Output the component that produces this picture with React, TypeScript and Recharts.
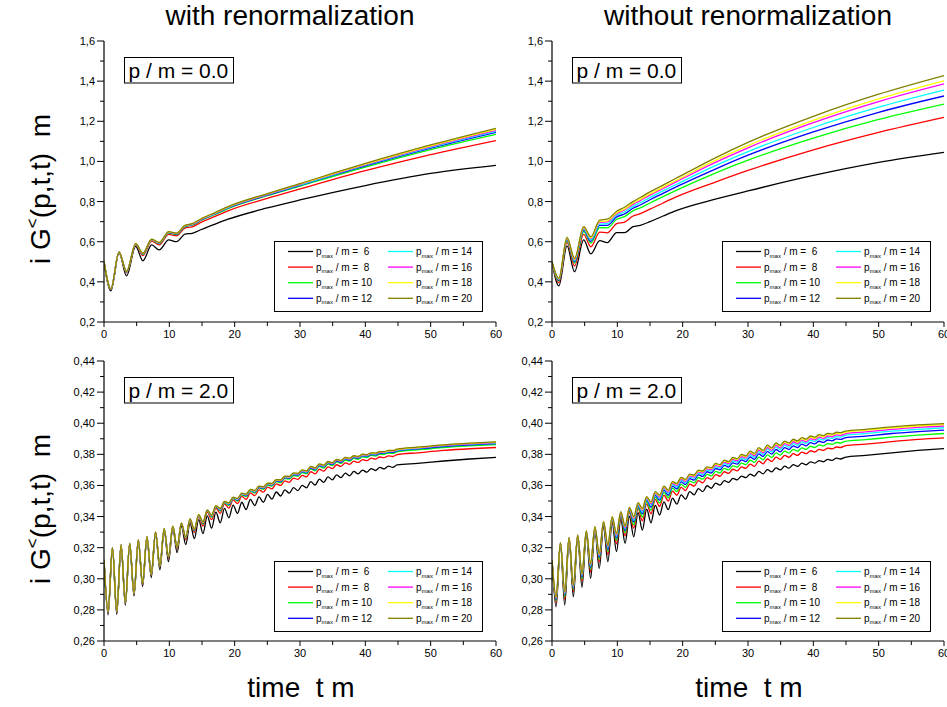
import React from 'react';
import { LineChart, Line, XAxis, YAxis } from 'recharts';

const FONT = "Arial, 'Liberation Sans', Helvetica, sans-serif";

// ---------- categories / ticks ----------
const X_TICKS = [0, 5, 10, 15, 20, 25, 30, 35, 40, 45, 50, 55, 60];
const X_MAJOR = [0, 10, 20, 30, 40, 50, 60];
const TOP_Y_TICKS = [0.2, 0.3, 0.4, 0.5, 0.6, 0.7, 0.8, 0.9, 1.0, 1.1, 1.2, 1.3, 1.4, 1.5, 1.6];
const TOP_Y_MAJOR = [0.2, 0.4, 0.6, 0.8, 1.0, 1.2, 1.4, 1.6];
const BOT_Y_TICKS = [0.26, 0.27, 0.28, 0.29, 0.3, 0.31, 0.32, 0.33, 0.34, 0.35, 0.36, 0.37, 0.38, 0.39, 0.4, 0.41, 0.42, 0.43, 0.44];
const BOT_Y_MAJOR = [0.26, 0.28, 0.3, 0.32, 0.34, 0.36, 0.38, 0.4, 0.42, 0.44];

const SERIES_KEYS = ['p6', 'p8', 'p10', 'p12', 'p14', 'p16', 'p18', 'p20'];
const SERIES_LABELS = [' 6', ' 8', '10', '12', '14', '16', '18', '20'];
const SERIES_COLORS = ['#000000', '#ff0000', '#00ff00', '#0000ff', '#00ffff', '#ff00ff', '#ffff00', '#808000'];

// ---------- time samples ----------
const T_TOP = [0, 1.05, 2.3, 3.45, 4.85, 5.95, 7.3, 8.45, 9.9, 11.1, 12.4, 13.5, 15, 17, 19, 25, 30, 40, 50, 60];
const T_BOT = [0, 0.63, 1.29, 1.95, 2.61, 3.27, 3.93, 4.59, 5.25, 5.91, 6.57, 7.23, 7.89, 8.55, 9.21, 9.87, 10.53,
  11.19, 11.85, 12.51, 13.17, 13.83, 14.49, 15.15, 15.81, 16.47, 17.13, 17.79, 18.45, 19.11, 19.77, 20.43, 21.09,
  21.75, 22.41, 23.07, 23.73, 24.39, 25.05, 25.71, 26.37, 27.03, 27.69, 28.35, 29.01, 29.67, 30.33,
  30.99, 31.65, 32.31, 32.97, 33.63, 34.29, 34.95, 35.61, 36.27, 36.93, 37.59, 38.25, 38.91, 39.57, 40.23, 40.89,
  41.55, 42.21, 42.87, 43.53, 44.19, 44.85, 48, 52, 56, 60];

// ---------- top-left: with renormalization, p/m = 0.0 ----------
const TL_P6 = [0.500, 0.355, 0.545, 0.430, 0.577, 0.505, 0.584, 0.559, 0.609, 0.600, 0.638, 0.642, 0.662, 0.688, 0.712, 0.768, 0.808, 0.880, 0.940, 0.980];
const TL_P8 = [0.500, 0.362, 0.547, 0.445, 0.586, 0.531, 0.603, 0.584, 0.637, 0.629, 0.668, 0.674, 0.699, 0.726, 0.754, 0.816, 0.863, 0.954, 1.034, 1.104];
const TL_P10 = [0.500, 0.363, 0.548, 0.449, 0.588, 0.537, 0.608, 0.590, 0.643, 0.636, 0.675, 0.682, 0.708, 0.736, 0.765, 0.829, 0.877, 0.972, 1.059, 1.135];
const TL_P12 = [0.500, 0.364, 0.548, 0.450, 0.589, 0.539, 0.610, 0.592, 0.646, 0.638, 0.677, 0.685, 0.711, 0.739, 0.768, 0.832, 0.881, 0.978, 1.066, 1.145];
const TL_P14 = [0.500, 0.364, 0.548, 0.450, 0.589, 0.540, 0.611, 0.593, 0.647, 0.640, 0.679, 0.686, 0.713, 0.740, 0.770, 0.834, 0.883, 0.981, 1.070, 1.150];
const TL_P16 = [0.500, 0.364, 0.548, 0.451, 0.589, 0.541, 0.611, 0.594, 0.648, 0.641, 0.680, 0.687, 0.714, 0.742, 0.772, 0.836, 0.886, 0.984, 1.074, 1.155];
const TL_P18 = [0.500, 0.365, 0.548, 0.451, 0.590, 0.542, 0.612, 0.595, 0.649, 0.642, 0.681, 0.689, 0.716, 0.744, 0.773, 0.838, 0.888, 0.987, 1.078, 1.160];
const TL_P20 = [0.500, 0.365, 0.548, 0.452, 0.590, 0.543, 0.613, 0.596, 0.650, 0.643, 0.682, 0.690, 0.717, 0.745, 0.775, 0.840, 0.890, 0.990, 1.082, 1.165];

// ---------- top-right: without renormalization, p/m = 0.0 ----------
const TR_P6 = [0.500, 0.380, 0.579, 0.451, 0.609, 0.539, 0.605, 0.595, 0.645, 0.645, 0.675, 0.682, 0.700, 0.728, 0.755, 0.812, 0.853, 0.930, 0.995, 1.045];
const TR_P8 = [0.500, 0.396, 0.597, 0.479, 0.637, 0.575, 0.648, 0.644, 0.690, 0.698, 0.728, 0.740, 0.762, 0.793, 0.823, 0.897, 0.955, 1.058, 1.145, 1.220];
const TR_P10 = [0.500, 0.404, 0.606, 0.493, 0.651, 0.593, 0.670, 0.669, 0.712, 0.725, 0.754, 0.769, 0.793, 0.825, 0.856, 0.942, 1.006, 1.116, 1.209, 1.286];
const TR_P12 = [0.500, 0.408, 0.611, 0.500, 0.658, 0.602, 0.681, 0.681, 0.724, 0.738, 0.767, 0.783, 0.809, 0.841, 0.873, 0.962, 1.031, 1.147, 1.245, 1.326];
const TR_P14 = [0.500, 0.411, 0.614, 0.505, 0.663, 0.609, 0.688, 0.690, 0.732, 0.748, 0.776, 0.794, 0.820, 0.853, 0.885, 0.979, 1.049, 1.169, 1.270, 1.355];
const TR_P16 = [0.500, 0.414, 0.617, 0.510, 0.668, 0.616, 0.697, 0.699, 0.740, 0.758, 0.786, 0.805, 0.832, 0.865, 0.898, 0.995, 1.068, 1.193, 1.298, 1.386];
const TR_P18 = [0.500, 0.415, 0.619, 0.513, 0.671, 0.619, 0.701, 0.704, 0.745, 0.763, 0.792, 0.811, 0.838, 0.872, 0.905, 1.005, 1.079, 1.205, 1.312, 1.402];
const TR_P20 = [0.500, 0.418, 0.622, 0.517, 0.675, 0.625, 0.708, 0.712, 0.752, 0.772, 0.800, 0.820, 0.848, 0.882, 0.916, 1.018, 1.095, 1.225, 1.335, 1.428];

// ---------- bottom-left: with renormalization, p/m = 2.0 ----------
const BL_P6 = [0.3120, 0.2768, 0.3198, 0.2772, 0.3214, 0.2830, 0.3224, 0.2890, 0.3244, 0.2950, 0.3262, 0.3008, 0.3290, 0.3058, 0.3310, 0.3110, 0.3322, 0.3168, 0.3338, 0.3220, 0.3358, 0.3258, 0.3380, 0.3290, 0.3405, 0.3325, 0.3428, 0.3360, 0.3452, 0.3392, 0.3474, 0.3420, 0.3492, 0.3445, 0.3510, 0.3470, 0.3526, 0.3492, 0.3542, 0.3512, 0.3558, 0.3532, 0.3572, 0.3550, 0.3586, 0.3567, 0.3600,
  0.3585, 0.3624, 0.3603, 0.3640, 0.3620, 0.3655, 0.3636, 0.3668, 0.3650, 0.3679, 0.3662, 0.3690, 0.3674, 0.3699, 0.3685, 0.3708, 0.3696, 0.3716, 0.3706, 0.3724, 0.3716, 0.3732, 0.3742, 0.3757, 0.3770, 0.3780];
const BL_P8 = [0.3120, 0.2782, 0.3199, 0.2784, 0.3216, 0.2841, 0.3227, 0.2901, 0.3248, 0.2963, 0.3267, 0.3022, 0.3296, 0.3076, 0.3318, 0.3131, 0.3332, 0.3192, 0.3351, 0.3251, 0.3376, 0.3297, 0.3401, 0.3339, 0.3429, 0.3380, 0.3455, 0.3420, 0.3482, 0.3454, 0.3507, 0.3483, 0.3530, 0.3510, 0.3552, 0.3534, 0.3572, 0.3557, 0.3589, 0.3578, 0.3610, 0.3600, 0.3629, 0.3620, 0.3647, 0.3639, 0.3665,
  0.3655, 0.3688, 0.3674, 0.3704, 0.3692, 0.3719, 0.3708, 0.3733, 0.3722, 0.3745, 0.3736, 0.3756, 0.3748, 0.3766, 0.3759, 0.3775, 0.3769, 0.3783, 0.3779, 0.3790, 0.3786, 0.3798, 0.3810, 0.3825, 0.3836, 0.3844];
const BL_P10 = [0.3120, 0.2786, 0.3200, 0.2787, 0.3216, 0.2844, 0.3227, 0.2904, 0.3249, 0.2967, 0.3269, 0.3026, 0.3297, 0.3080, 0.3320, 0.3137, 0.3335, 0.3199, 0.3355, 0.3260, 0.3380, 0.3308, 0.3407, 0.3352, 0.3436, 0.3396, 0.3463, 0.3436, 0.3490, 0.3472, 0.3515, 0.3500, 0.3540, 0.3528, 0.3564, 0.3551, 0.3584, 0.3575, 0.3603, 0.3596, 0.3624, 0.3618, 0.3645, 0.3640, 0.3664, 0.3659, 0.3683,
  0.3675, 0.3706, 0.3694, 0.3722, 0.3712, 0.3737, 0.3728, 0.3751, 0.3742, 0.3763, 0.3756, 0.3774, 0.3768, 0.3784, 0.3779, 0.3793, 0.3789, 0.3801, 0.3799, 0.3808, 0.3806, 0.3816, 0.3829, 0.3844, 0.3855, 0.3863];
const BL_P12 = [0.3120, 0.2788, 0.3200, 0.2788, 0.3217, 0.2845, 0.3228, 0.2905, 0.3249, 0.2968, 0.3269, 0.3028, 0.3298, 0.3082, 0.3321, 0.3138, 0.3336, 0.3201, 0.3356, 0.3263, 0.3382, 0.3311, 0.3408, 0.3357, 0.3438, 0.3401, 0.3465, 0.3442, 0.3493, 0.3477, 0.3518, 0.3506, 0.3544, 0.3534, 0.3568, 0.3557, 0.3588, 0.3581, 0.3607, 0.3602, 0.3629, 0.3625, 0.3650, 0.3646, 0.3670, 0.3666, 0.3689,
  0.3682, 0.3712, 0.3701, 0.3728, 0.3719, 0.3743, 0.3735, 0.3757, 0.3749, 0.3769, 0.3763, 0.3780, 0.3775, 0.3790, 0.3786, 0.3799, 0.3796, 0.3807, 0.3806, 0.3814, 0.3813, 0.3822, 0.3835, 0.3850, 0.3861, 0.3869];
const BL_P14 = [0.3120, 0.2789, 0.3200, 0.2789, 0.3217, 0.2846, 0.3228, 0.2906, 0.3250, 0.2969, 0.3269, 0.3029, 0.3298, 0.3083, 0.3321, 0.3140, 0.3337, 0.3202, 0.3357, 0.3265, 0.3383, 0.3314, 0.3410, 0.3360, 0.3439, 0.3404, 0.3467, 0.3446, 0.3495, 0.3481, 0.3520, 0.3510, 0.3546, 0.3538, 0.3570, 0.3561, 0.3591, 0.3585, 0.3610, 0.3606, 0.3632, 0.3629, 0.3654, 0.3650, 0.3673, 0.3670, 0.3693,
  0.3686, 0.3716, 0.3705, 0.3732, 0.3723, 0.3747, 0.3739, 0.3761, 0.3753, 0.3773, 0.3767, 0.3784, 0.3779, 0.3794, 0.3790, 0.3803, 0.3800, 0.3811, 0.3810, 0.3818, 0.3817, 0.3826, 0.3839, 0.3854, 0.3865, 0.3873];
const BL_P16 = [0.3120, 0.2789, 0.3200, 0.2789, 0.3217, 0.2846, 0.3228, 0.2906, 0.3250, 0.2969, 0.3270, 0.3029, 0.3299, 0.3084, 0.3321, 0.3141, 0.3337, 0.3203, 0.3357, 0.3266, 0.3384, 0.3315, 0.3411, 0.3362, 0.3440, 0.3406, 0.3468, 0.3448, 0.3496, 0.3484, 0.3522, 0.3513, 0.3547, 0.3540, 0.3572, 0.3564, 0.3593, 0.3587, 0.3612, 0.3608, 0.3634, 0.3631, 0.3656, 0.3653, 0.3676, 0.3673, 0.3695,
  0.3689, 0.3718, 0.3708, 0.3734, 0.3726, 0.3749, 0.3742, 0.3763, 0.3756, 0.3775, 0.3770, 0.3786, 0.3782, 0.3796, 0.3793, 0.3805, 0.3803, 0.3813, 0.3813, 0.3820, 0.3820, 0.3828, 0.3841, 0.3856, 0.3867, 0.3875];
const BL_P18 = [0.3120, 0.2790, 0.3200, 0.2790, 0.3217, 0.2847, 0.3228, 0.2907, 0.3250, 0.2970, 0.3270, 0.3030, 0.3299, 0.3084, 0.3322, 0.3141, 0.3338, 0.3204, 0.3358, 0.3267, 0.3384, 0.3317, 0.3411, 0.3363, 0.3441, 0.3408, 0.3469, 0.3450, 0.3497, 0.3486, 0.3523, 0.3515, 0.3549, 0.3543, 0.3574, 0.3566, 0.3595, 0.3590, 0.3614, 0.3611, 0.3636, 0.3634, 0.3658, 0.3656, 0.3678, 0.3676, 0.3698,
  0.3692, 0.3721, 0.3711, 0.3737, 0.3729, 0.3752, 0.3745, 0.3766, 0.3759, 0.3778, 0.3773, 0.3789, 0.3785, 0.3799, 0.3796, 0.3808, 0.3806, 0.3816, 0.3816, 0.3823, 0.3823, 0.3831, 0.3844, 0.3859, 0.3870, 0.3878];
const BL_P20 = [0.3120, 0.2790, 0.3200, 0.2790, 0.3217, 0.2847, 0.3228, 0.2907, 0.3250, 0.2970, 0.3270, 0.3030, 0.3299, 0.3085, 0.3322, 0.3142, 0.3338, 0.3205, 0.3358, 0.3268, 0.3385, 0.3318, 0.3412, 0.3365, 0.3442, 0.3410, 0.3470, 0.3452, 0.3498, 0.3488, 0.3524, 0.3517, 0.3550, 0.3545, 0.3575, 0.3568, 0.3596, 0.3592, 0.3615, 0.3613, 0.3638, 0.3636, 0.3660, 0.3658, 0.3680, 0.3678, 0.3700,
  0.3694, 0.3723, 0.3713, 0.3739, 0.3731, 0.3754, 0.3747, 0.3768, 0.3761, 0.3780, 0.3775, 0.3791, 0.3787, 0.3801, 0.3798, 0.3810, 0.3808, 0.3818, 0.3818, 0.3825, 0.3825, 0.3833, 0.3846, 0.3861, 0.3872, 0.3880];

// ---------- bottom-right: without renormalization, p/m = 2.0 ----------
const BR_P6 = [0.3120, 0.2820, 0.3225, 0.2831, 0.3255, 0.2885, 0.3268, 0.2945, 0.3288, 0.3003, 0.3310, 0.3067, 0.3335, 0.3110, 0.3360, 0.3174, 0.3382, 0.3228, 0.3402, 0.3270, 0.3425, 0.3313, 0.3448, 0.3360, 0.3472, 0.3410, 0.3495, 0.3445, 0.3518, 0.3480, 0.3540, 0.3512, 0.3560, 0.3540, 0.3580, 0.3560, 0.3598, 0.3582, 0.3615, 0.3602, 0.3631, 0.3620, 0.3646, 0.3636, 0.3660, 0.3650, 0.3673,
  0.3660, 0.3691, 0.3674, 0.3702, 0.3687, 0.3713, 0.3700, 0.3724, 0.3711, 0.3734, 0.3722, 0.3743, 0.3733, 0.3752, 0.3743, 0.3760, 0.3752, 0.3768, 0.3761, 0.3775, 0.3770, 0.3781, 0.3793, 0.3810, 0.3825, 0.3837];
const BR_P8 = [0.3120, 0.2848, 0.3228, 0.2868, 0.3259, 0.2917, 0.3274, 0.2984, 0.3296, 0.3044, 0.3321, 0.3108, 0.3349, 0.3156, 0.3377, 0.3225, 0.3403, 0.3276, 0.3427, 0.3325, 0.3453, 0.3373, 0.3482, 0.3418, 0.3510, 0.3465, 0.3538, 0.3499, 0.3564, 0.3537, 0.3588, 0.3567, 0.3609, 0.3595, 0.3631, 0.3617, 0.3650, 0.3639, 0.3670, 0.3659, 0.3688, 0.3677, 0.3704, 0.3694, 0.3720, 0.3710, 0.3737,
  0.3723, 0.3756, 0.3739, 0.3770, 0.3754, 0.3782, 0.3768, 0.3793, 0.3781, 0.3804, 0.3793, 0.3814, 0.3804, 0.3823, 0.3815, 0.3832, 0.3825, 0.3840, 0.3835, 0.3847, 0.3844, 0.3854, 0.3865, 0.3882, 0.3896, 0.3906];
const BR_P10 = [0.3120, 0.2859, 0.3229, 0.2883, 0.3260, 0.2930, 0.3276, 0.2999, 0.3299, 0.3061, 0.3325, 0.3125, 0.3354, 0.3174, 0.3383, 0.3245, 0.3411, 0.3295, 0.3436, 0.3347, 0.3463, 0.3397, 0.3496, 0.3441, 0.3525, 0.3487, 0.3556, 0.3520, 0.3582, 0.3560, 0.3607, 0.3588, 0.3628, 0.3616, 0.3651, 0.3640, 0.3671, 0.3661, 0.3691, 0.3681, 0.3710, 0.3700, 0.3726, 0.3718, 0.3744, 0.3734, 0.3762,
  0.3748, 0.3782, 0.3765, 0.3796, 0.3780, 0.3809, 0.3795, 0.3821, 0.3808, 0.3832, 0.3820, 0.3842, 0.3832, 0.3852, 0.3844, 0.3861, 0.3854, 0.3869, 0.3864, 0.3876, 0.3873, 0.3883, 0.3894, 0.3910, 0.3923, 0.3934];
const BR_P12 = [0.3120, 0.2868, 0.3230, 0.2895, 0.3262, 0.2940, 0.3278, 0.3012, 0.3302, 0.3074, 0.3328, 0.3138, 0.3359, 0.3189, 0.3389, 0.3261, 0.3418, 0.3310, 0.3444, 0.3365, 0.3472, 0.3417, 0.3507, 0.3460, 0.3537, 0.3505, 0.3570, 0.3537, 0.3596, 0.3578, 0.3623, 0.3606, 0.3644, 0.3634, 0.3668, 0.3658, 0.3688, 0.3680, 0.3709, 0.3700, 0.3729, 0.3718, 0.3745, 0.3737, 0.3764, 0.3754, 0.3783,
  0.3768, 0.3803, 0.3786, 0.3818, 0.3801, 0.3831, 0.3816, 0.3843, 0.3831, 0.3855, 0.3843, 0.3865, 0.3855, 0.3875, 0.3867, 0.3884, 0.3877, 0.3892, 0.3887, 0.3899, 0.3896, 0.3906, 0.3917, 0.3934, 0.3946, 0.3956];
const BR_P14 = [0.3120, 0.2874, 0.3231, 0.2902, 0.3262, 0.2947, 0.3279, 0.3020, 0.3304, 0.3083, 0.3331, 0.3147, 0.3362, 0.3199, 0.3392, 0.3272, 0.3423, 0.3320, 0.3449, 0.3377, 0.3478, 0.3429, 0.3514, 0.3472, 0.3545, 0.3516, 0.3579, 0.3549, 0.3606, 0.3590, 0.3633, 0.3617, 0.3654, 0.3645, 0.3679, 0.3670, 0.3699, 0.3692, 0.3720, 0.3712, 0.3741, 0.3730, 0.3757, 0.3749, 0.3776, 0.3766, 0.3796,
  0.3781, 0.3817, 0.3799, 0.3833, 0.3815, 0.3846, 0.3831, 0.3858, 0.3845, 0.3869, 0.3858, 0.3880, 0.3870, 0.3890, 0.3882, 0.3899, 0.3892, 0.3907, 0.3902, 0.3914, 0.3911, 0.3921, 0.3933, 0.3949, 0.3961, 0.3971];
const BR_P16 = [0.3120, 0.2878, 0.3231, 0.2908, 0.3263, 0.2952, 0.3280, 0.3026, 0.3305, 0.3089, 0.3332, 0.3153, 0.3364, 0.3206, 0.3395, 0.3280, 0.3426, 0.3328, 0.3453, 0.3386, 0.3483, 0.3439, 0.3520, 0.3481, 0.3551, 0.3525, 0.3586, 0.3557, 0.3613, 0.3600, 0.3641, 0.3626, 0.3662, 0.3654, 0.3687, 0.3680, 0.3708, 0.3701, 0.3729, 0.3721, 0.3750, 0.3740, 0.3767, 0.3758, 0.3786, 0.3776, 0.3806,
  0.3791, 0.3828, 0.3810, 0.3844, 0.3826, 0.3857, 0.3842, 0.3869, 0.3857, 0.3881, 0.3869, 0.3891, 0.3881, 0.3901, 0.3893, 0.3910, 0.3903, 0.3918, 0.3913, 0.3925, 0.3922, 0.3932, 0.3944, 0.3960, 0.3973, 0.3982];
const BR_P18 = [0.3120, 0.2882, 0.3232, 0.2914, 0.3264, 0.2957, 0.3280, 0.3031, 0.3306, 0.3095, 0.3334, 0.3159, 0.3366, 0.3213, 0.3397, 0.3287, 0.3429, 0.3335, 0.3457, 0.3394, 0.3486, 0.3447, 0.3525, 0.3490, 0.3556, 0.3533, 0.3592, 0.3565, 0.3620, 0.3608, 0.3648, 0.3634, 0.3668, 0.3662, 0.3694, 0.3688, 0.3715, 0.3709, 0.3737, 0.3729, 0.3758, 0.3748, 0.3775, 0.3767, 0.3794, 0.3784, 0.3815,
  0.3800, 0.3837, 0.3819, 0.3853, 0.3836, 0.3867, 0.3852, 0.3879, 0.3867, 0.3891, 0.3879, 0.3901, 0.3891, 0.3911, 0.3903, 0.3920, 0.3913, 0.3928, 0.3923, 0.3935, 0.3932, 0.3942, 0.3954, 0.3970, 0.3982, 0.3991];
const BR_P20 = [0.3120, 0.2885, 0.3232, 0.2917, 0.3264, 0.2960, 0.3281, 0.3035, 0.3307, 0.3099, 0.3335, 0.3163, 0.3367, 0.3217, 0.3399, 0.3292, 0.3431, 0.3339, 0.3459, 0.3399, 0.3489, 0.3453, 0.3528, 0.3495, 0.3560, 0.3538, 0.3596, 0.3570, 0.3624, 0.3613, 0.3652, 0.3639, 0.3673, 0.3667, 0.3699, 0.3693, 0.3720, 0.3714, 0.3742, 0.3734, 0.3763, 0.3753, 0.3780, 0.3772, 0.3800, 0.3790, 0.3821,
  0.3806, 0.3843, 0.3825, 0.3859, 0.3842, 0.3873, 0.3858, 0.3885, 0.3873, 0.3897, 0.3886, 0.3908, 0.3898, 0.3918, 0.3910, 0.3927, 0.3920, 0.3935, 0.3930, 0.3942, 0.3939, 0.3949, 0.3961, 0.3977, 0.3989, 0.3998];

const TL_SERIES = [TL_P6, TL_P8, TL_P10, TL_P12, TL_P14, TL_P16, TL_P18, TL_P20];
const TR_SERIES = [TR_P6, TR_P8, TR_P10, TR_P12, TR_P14, TR_P16, TR_P18, TR_P20];
const BL_SERIES = [BL_P6, BL_P8, BL_P10, BL_P12, BL_P14, BL_P16, BL_P18, BL_P20];
const BR_SERIES = [BR_P6, BR_P8, BR_P10, BR_P12, BR_P14, BR_P16, BR_P18, BR_P20];

// ---------- layout ----------
const PLOT_W = 392;
const Y_AXIS_W = 50;
const M_TOP = 10;
const M_RIGHT = 16;
const X_AXIS_H = 30;

const near = (list: number[], v: number) => list.some((m) => Math.abs(m - v) < 1e-9);

function buildRows(T: number[], series: number[][]) {
  return T.map((t, i) => {
    const row: Record<string, number> = { t };
    SERIES_KEYS.forEach((k, j) => {
      row[k] = series[j][i];
    });
    return row;
  });
}

type PanelProps = {
  left: number;
  top: number;
  plotH: number;
  T: number[];
  series: number[][];
  yDomain: [number, number];
  yTicks: number[];
  yMajor: number[];
  dec: number;
  inset: string;
};

function Legend({ x, y }: { x: number; y: number }) {
  const rowY = (i: number) => y + 10.5 + 15.6 * i;
  return (
    <g>
      <rect x={x + 0.5} y={y + 0.5} width={208} height={70} fill="#fff" stroke="#000" strokeWidth={1} />
      {SERIES_KEYS.map((k, i) => {
        const col = i < 4 ? 0 : 1;
        const row = i % 4;
        const lx = x + 14 + col * 100;
        const cy = rowY(row);
        return (
          <g key={k}>
            <line x1={lx} x2={lx + 25} y1={cy} y2={cy} stroke={SERIES_COLORS[i]} strokeWidth={1.3} />
            <text x={lx + 28} y={cy + 3.5} fontSize={10} fontFamily={FONT} fill="#000" style={{ whiteSpace: 'pre' }} xmlSpace="preserve">
              p<tspan fontSize={6} dy={2.5}>max</tspan>
              <tspan dy={-2.5}>{` / m = ${SERIES_LABELS[i]}`}</tspan>
            </text>
          </g>
        );
      })}
    </g>
  );
}

function Panel({ left, top, plotH, T, series, yDomain, yTicks, yMajor, dec, inset }: PanelProps) {
  const data = buildRows(T, series);
  const W = Y_AXIS_W + PLOT_W + M_RIGHT;
  const H = M_TOP + plotH + X_AXIS_H;
  const axisY = M_TOP + plotH;
  const axL = Y_AXIS_W;
  const axR = Y_AXIS_W + PLOT_W;
  const fmt = (v: number) => v.toFixed(dec).replace('.', ',');

  const bottomTick = (p: any) => {
    const v = p.payload.value;
    const major = near(X_MAJOR, v);
    return (
      <g>
        <line x1={p.x} x2={p.x} y1={axisY} y2={axisY + (major ? 5 : 4)} stroke="#000" />
        {major && (
          <text x={p.x} y={axisY + 16} textAnchor="middle" fontSize={11} fontFamily={FONT} fill="#000">
            {String(v)}
          </text>
        )}
      </g>
    );
  };
  const topTick = (p: any) => {
    const v = p.payload.value;
    const major = near(X_MAJOR, v);
    return <line x1={p.x} x2={p.x} y1={M_TOP} y2={M_TOP + (major ? 5 : 4)} stroke="#000" />;
  };
  const leftTick = (p: any) => {
    const v = p.payload.value;
    const major = near(yMajor, v);
    return (
      <g>
        <line x1={axL} x2={axL - (major ? 7 : 4)} y1={p.y} y2={p.y} stroke="#000" />
        {major && (
          <text x={axL - 9} y={p.y + 4} textAnchor="end" fontSize={11} fontFamily={FONT} fill="#000">
            {fmt(v)}
          </text>
        )}
      </g>
    );
  };
  const rightTick = (p: any) => {
    const v = p.payload.value;
    const major = near(yMajor, v);
    return <line x1={axR} x2={axR - (major ? 5 : 4)} y1={p.y} y2={p.y} stroke="#000" />;
  };

  return (
    <div style={{ position: 'absolute', left: left - Y_AXIS_W, top: top - M_TOP, width: W, height: H }}>
      <LineChart width={W} height={H} data={data} margin={{ top: M_TOP, right: M_RIGHT, bottom: 0, left: 0 }}>
        <XAxis xAxisId="b" dataKey="t" type="number" domain={[0, 60]} ticks={X_TICKS} interval={0} allowDataOverflow
          height={X_AXIS_H} tickLine={false} axisLine={{ stroke: '#000', strokeWidth: 1.2 }} tick={bottomTick} />
        <XAxis xAxisId="t" orientation="top" dataKey="t" type="number" domain={[0, 60]} ticks={X_TICKS} interval={0} allowDataOverflow
          height={0} tickLine={false} axisLine={{ stroke: '#000', strokeWidth: 1.2 }} tick={topTick} />
        <YAxis yAxisId="l" type="number" domain={yDomain} ticks={yTicks} interval={0} allowDataOverflow
          width={Y_AXIS_W} tickLine={false} axisLine={{ stroke: '#000', strokeWidth: 1.2 }} tick={leftTick} />
        <YAxis yAxisId="r" orientation="right" type="number" domain={yDomain} ticks={yTicks} interval={0} allowDataOverflow
          width={0} tickLine={false} axisLine={{ stroke: '#000', strokeWidth: 1.2 }} tick={rightTick} />
        {SERIES_KEYS.map((k, i) => (
          <Line key={k} xAxisId="b" yAxisId="l" dataKey={k} type="monotone" stroke={SERIES_COLORS[i]}
            strokeWidth={1.3} dot={false} activeDot={false} isAnimationActive={false} />
        ))}
      </LineChart>
      <svg width={W} height={H} style={{ position: 'absolute', left: 0, top: 0, pointerEvents: 'none' }}>
        <rect x={axL + 20.5} y={M_TOP + 16.5} width={109} height={25.5} fill="#fff" stroke="#000" strokeWidth={1} />
        <text x={axL + 24.5} y={M_TOP + 36.5} fontSize={21} fontFamily={FONT} fill="#000">{inset}</text>
        <Legend x={axL + 170} y={M_TOP + 200} />
      </svg>
    </div>
  );
}

function YLabel({ cy }: { cy: number }) {
  return (
    <text transform={`translate(50,${cy}) rotate(-90)`} textAnchor="middle" fontSize={28} fontFamily={FONT} fill="#000"
      style={{ whiteSpace: 'pre' }} xmlSpace="preserve">
      i G<tspan fontSize={17} dy={-12}>&lt;</tspan><tspan dy={12}>(p,t,t)  m</tspan>
    </text>
  );
}

export default function App() {
  return (
    <div style={{ position: 'absolute', left: 0, top: 0, width: 947, height: 707, background: '#fff', overflow: 'hidden' }}>
      <Panel left={104} top={41} plotH={281} T={T_TOP} series={TL_SERIES} yDomain={[0.2, 1.6]} yTicks={TOP_Y_TICKS}
        yMajor={TOP_Y_MAJOR} dec={1} inset="p / m = 0.0" />
      <Panel left={552} top={41} plotH={281} T={T_TOP} series={TR_SERIES} yDomain={[0.2, 1.6]} yTicks={TOP_Y_TICKS}
        yMajor={TOP_Y_MAJOR} dec={1} inset="p / m = 0.0" />
      <Panel left={104} top={361} plotH={280} T={T_BOT} series={BL_SERIES} yDomain={[0.26, 0.44]} yTicks={BOT_Y_TICKS}
        yMajor={BOT_Y_MAJOR} dec={2} inset="p / m = 2.0" />
      <Panel left={552} top={361} plotH={280} T={T_BOT} series={BR_SERIES} yDomain={[0.26, 0.44]} yTicks={BOT_Y_TICKS}
        yMajor={BOT_Y_MAJOR} dec={2} inset="p / m = 2.0" />
      <svg width={947} height={707} style={{ position: 'absolute', left: 0, top: 0, pointerEvents: 'none' }}>
        <text x={290} y={25} textAnchor="middle" fontSize={27} fontFamily={FONT} fill="#000" textLength={249} lengthAdjust="spacingAndGlyphs">with renormalization</text>
        <text x={748} y={25} textAnchor="middle" fontSize={27} fontFamily={FONT} fill="#000" textLength={288} lengthAdjust="spacingAndGlyphs">without renormalization</text>
        <text x={301} y={697} textAnchor="middle" fontSize={28} fontFamily={FONT} fill="#000" style={{ whiteSpace: 'pre' }} xmlSpace="preserve">time  t m</text>
        <text x={749} y={697} textAnchor="middle" fontSize={28} fontFamily={FONT} fill="#000" style={{ whiteSpace: 'pre' }} xmlSpace="preserve">time  t m</text>
        <YLabel cy={189} />
        <YLabel cy={509} />
      </svg>
    </div>
  );
}
